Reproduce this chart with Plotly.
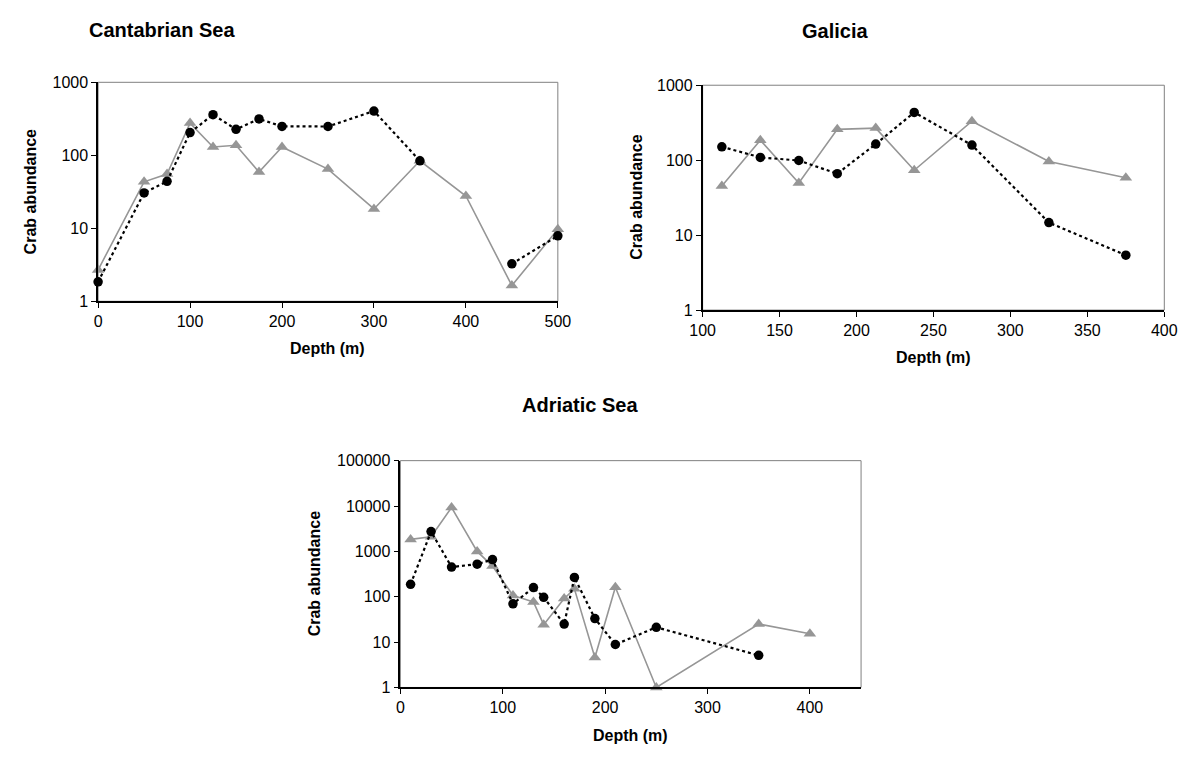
import plotly.graph_objects as go

# ---------------- data ----------------
cant_depth = [0, 50, 75, 100, 125, 150, 175, 200, 250, 300, 350, 400, 450, 500]
cant_circle = [1.85, 30.5, 44, 205, 360, 227, 315, 249, 248, 404, 84, None, 3.26, 7.9]
cant_triangle = [2.69, 43.3, 55.4, 276, 130, 137, 59, 130, 64.7, 18.4, 84, 27.7, 1.64, 9.7]

gal_depth = [112.5, 137.5, 162.5, 187.5, 212.5, 237.5, 275, 325, 375]
gal_circle = [151, 109, 99, 66, 164, 434, 159, 14.7, 5.4]
gal_triangle = [45.3, 185, 49.6, 258, 268, 73.4, 331, 96.3, 58.4]

adr_depth = [10, 30, 50, 75, 90, 110, 130, 140, 160, 170, 190, 210, 250, 350, 400]
adr_circle = [188, 2730, 451, 523, 659, 69.8, 159, 97, 25, 266, 33, 8.85, 21.2, 5.1, None]
adr_triangle = [1837, 2095, 9270, 997, 474, 107, 77, 24.2, 91, 149, 4.57, 162, 1.0, 25, 15.3]

cant_xticks = [0, 100, 200, 300, 400, 500]
gal_xticks = [100, 150, 200, 250, 300, 350, 400]
adr_xticks = [0, 100, 200, 300, 400]
y3_ticks = [1, 10, 100, 1000]
y5_ticks = [1, 10, 100, 1000, 10000, 100000]

titles = ["Cantabrian Sea", "Galicia", "Adriatic Sea"]

# ---------------- layout helpers ----------------
W, H = 1191, 760
FONT = "Liberation Sans, Arial, sans-serif"
def fx(p):
    return p / W
def fy(p):
    return 1 - p / H

panels = [
    # x0, x1, y0(top), y1(bottom)
    dict(box=(87, 557, 76, 300), xr=[0, 500], xt=cant_xticks, yr=[0, 3], yt=y3_ticks,
         depth=cant_depth, circ=cant_circle, tri=cant_triangle,
         title_xy=(152, 22), ylab_x=18, xlab_y=348),
    dict(box=(705, 1177, 79, 309), xr=[100, 400], xt=gal_xticks, yr=[0, 3], yt=y3_ticks,
         depth=gal_depth, circ=gal_circle, tri=gal_triangle,
         title_xy=(840, 24), ylab_x=638, xlab_y=358),
    dict(box=(396, 867, 463, 695), xr=[0, 450], xt=adr_xticks, yr=[0, 5], yt=y5_ticks,
         depth=adr_depth, circ=adr_circle, tri=adr_triangle,
         title_xy=(580, 406), ylab_x=308, xlab_y=744),
]

fig = go.Figure()
annotations = []
shapes = []
GRAY = "#969696"

for i, p in enumerate(panels):
    n = "" if i == 0 else str(i + 1)
    x0, x1, y0, y1 = p["box"]
    xa = dict(domain=[fx(x0), fx(x1)], range=p["xr"], tickvals=p["xt"],
              ticktext=[str(v) for v in p["xt"]], showgrid=False, zeroline=False,
              showline=True, linecolor="black", linewidth=1.5, mirror=False,
              ticks="outside", ticklen=5, tickcolor="black", tickwidth=1,
              tickfont=dict(family=FONT, size=16, color="black"),
              anchor="y" + n, fixedrange=True)
    ya = dict(domain=[fy(y1), fy(y0)], type="log", range=p["yr"], tickvals=p["yt"],
              ticktext=[str(v) for v in p["yt"]], showgrid=False, zeroline=False,
              showline=True, linecolor="black", linewidth=1.5, mirror=False,
              ticks="outside", ticklen=5, tickcolor="black", tickwidth=1,
              tickfont=dict(family=FONT, size=16, color="black"),
              anchor="x" + n, fixedrange=True)
    fig.layout["xaxis" + n] = xa
    fig.layout["yaxis" + n] = ya

    fig.add_trace(go.Scatter(x=p["depth"], y=p["tri"], mode="lines+markers",
                             line=dict(color=GRAY, width=1.6),
                             marker=dict(symbol="triangle-up", size=11, color=GRAY),
                             xaxis="x" + n, yaxis="y" + n, showlegend=False,
                             connectgaps=False, cliponaxis=False))
    fig.add_trace(go.Scatter(x=p["depth"], y=p["circ"], mode="lines+markers",
                             line=dict(color="black", width=2.2, dash="dot"),
                             marker=dict(symbol="circle", size=9.5, color="black"),
                             xaxis="x" + n, yaxis="y" + n, showlegend=False,
                             connectgaps=False, cliponaxis=False))

    # plot-area frame (gray top/right)
    shapes.append(dict(type="rect", xref="paper", yref="paper",
                       x0=fx(x0), x1=fx(x1), y0=fy(y1), y1=fy(y0),
                       line=dict(color="#808080", width=1), layer="below"))

    tx, ty = p["title_xy"]
    annotations.append(dict(text="<b>%s</b>" % titles[i], x=fx(tx), y=fy(ty),
                            xref="paper", yref="paper", showarrow=False,
                            xanchor="center", yanchor="middle",
                            font=dict(family=FONT, size=20, color="black")))
    annotations.append(dict(text="<b>Crab abundance</b>", x=fx(p["ylab_x"]),
                            y=fy((y0 + y1) / 2), xref="paper", yref="paper",
                            showarrow=False, textangle=-90, xanchor="center",
                            yanchor="middle",
                            font=dict(family=FONT, size=16, color="black")))
    annotations.append(dict(text="<b>Depth (m)</b>", x=fx((x0 + x1) / 2),
                            y=fy(p["xlab_y"]), xref="paper", yref="paper",
                            showarrow=False, xanchor="center", yanchor="middle",
                            font=dict(family=FONT, size=16, color="black")))

fig.update_layout(width=W, height=H, margin=dict(l=0, r=0, t=0, b=0),
                  paper_bgcolor="white", plot_bgcolor="white",
                  annotations=annotations, shapes=shapes,
                  font=dict(family=FONT, color="black"))

fig.write_html("out.html")
